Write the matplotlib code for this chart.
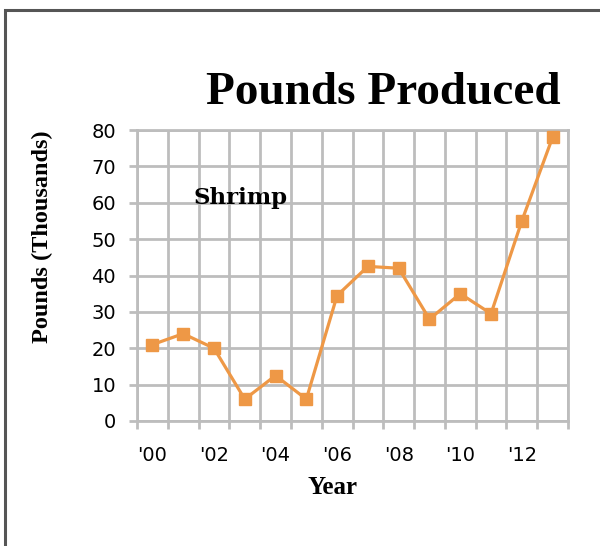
import matplotlib
matplotlib.use("Agg")
import matplotlib.pyplot as plt
from matplotlib.patches import Rectangle
import numpy as np

years = ["'00", "'01", "'02", "'03", "'04", "'05", "'06", "'07", "'08", "'09", "'10", "'11", "'12", "'13"]
shrimp = [21, 24, 20, 6, 12.5, 6, 34.5, 42.5, 42, 28, 35, 29.5, 55, 78]
yticks = [0, 10, 20, 30, 40, 50, 60, 70, 80]

orange = "#EE9846"
grid = "#BDBDBD"

fig = plt.figure(figsize=(6.0, 5.46), dpi=100)
fig.patch.set_facecolor("white")

# outer frame
fig.patches.append(Rectangle((5/600, -0.1), 1.2, 1 - 10/546 + 0.1, transform=fig.transFigure,
                             fill=False, edgecolor="#555555", linewidth=2.2, zorder=0))

ax = fig.add_axes([137/600, 1 - 421/546, (568 - 137)/600, (421 - 130)/546])
x = np.arange(len(years))
ax.plot(x, shrimp, color=orange, linewidth=2.3, marker="s", markersize=9,
        markerfacecolor=orange, markeredgecolor=orange, zorder=3)

ax.set_xlim(-0.5, len(years) - 0.5)
ax.set_ylim(0, 80)
ax.set_xticks(x[::2])
ax.set_xticklabels(years[::2], family="DejaVu Sans", fontsize=14)
ax.set_xticks(np.arange(-0.5, len(years), 1.0), minor=True)
ax.set_yticks(yticks)
ax.set_yticklabels([str(v) for v in yticks], family="DejaVu Sans", fontsize=14)

ax.tick_params(axis="x", which="major", length=0, pad=18)
ax.tick_params(axis="x", which="minor", length=6, width=2, color=grid)
ax.tick_params(axis="y", which="major", length=6, width=2, color=grid, pad=9)

ax.grid(True, axis="x", which="minor", color=grid, linewidth=2)
ax.grid(True, axis="y", which="major", color=grid, linewidth=2)
ax.set_axisbelow(True)
for s in ax.spines.values():
    s.set_color(grid)
    s.set_linewidth(2)

fig.text(42/600, 1 - 237/546, "Pounds (Thousands)", rotation=90,
         family="Liberation Serif", fontweight="bold", fontsize=17.5, ha="center", va="center")
fig.text(332/600, 1 - 488/546, "Year", family="Liberation Serif", fontweight="bold",
         fontsize=18, ha="center", va="center")

ax.text(1.35, 61.3, "Shrimp", family="DejaVu Serif", fontweight="bold", fontsize=16.5, va="center", ha="left")

fig.text(383/600, 1 - 93/546, "Pounds Produced", family="Liberation Serif", fontweight="bold",
         fontsize=34, ha="center", va="center")

fig.savefig("out.png", dpi=100)
